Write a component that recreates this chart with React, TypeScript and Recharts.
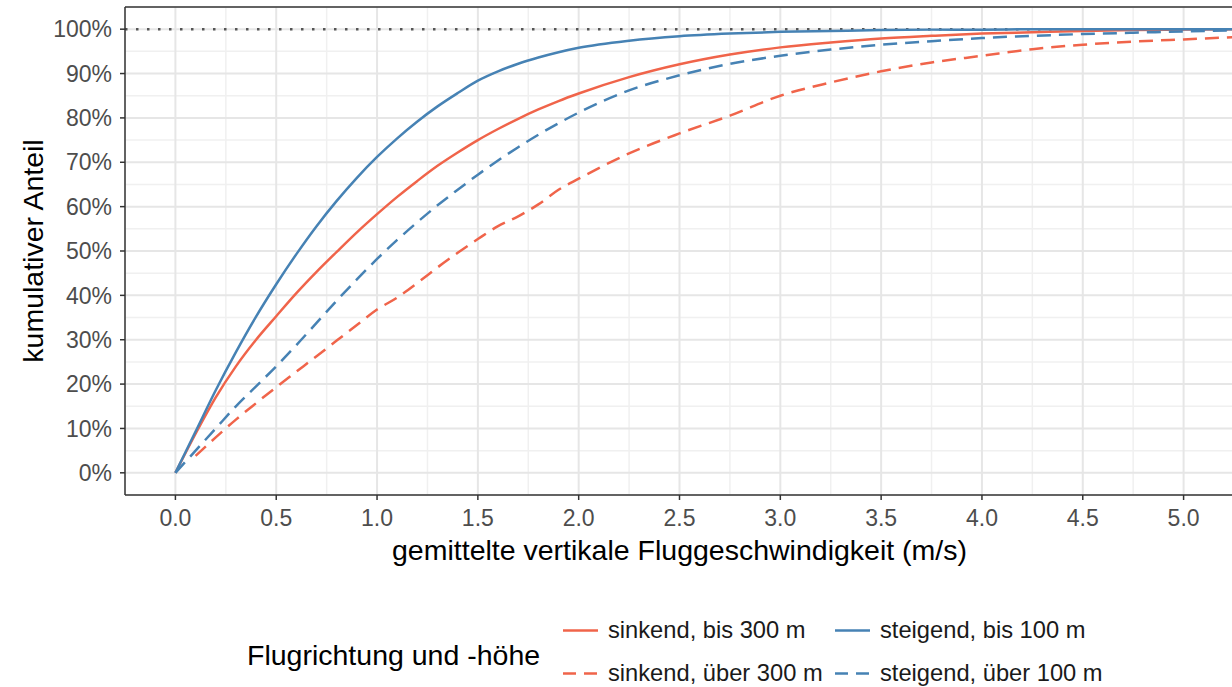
import React from "react";
import {
  LineChart, Line, XAxis, YAxis, ReferenceLine, Label,
} from "recharts";

// vertical speed (m/s)
const speeds = [
  0, 0.1, 0.2, 0.3, 0.4, 0.5, 0.6, 0.7, 0.8, 0.9, 1.0,
  1.1, 1.2, 1.3, 1.4, 1.5, 1.6, 1.7, 1.8, 1.9, 2.0,
  2.25, 2.5, 2.75, 3.0, 3.25, 3.5, 3.75, 4.0, 4.25, 4.5, 4.75, 5.0, 5.25,
];

// cumulative share (%)
const sinkendBis300 = [
  0, 8.8, 17, 24, 30, 35.3, 40.5, 45.3, 49.8, 54.2, 58.3,
  62.2, 65.8, 69.2, 72.2, 75, 77.5, 79.8, 81.9, 83.8, 85.5,
  89.2, 92.1, 94.3, 95.9, 97, 97.9, 98.5, 99, 99.3, 99.6, 99.8, 99.9, 100,
];
const sinkendUeber300 = [
  null, 3.8, 8, 12, 15.7, 19.3, 22.8, 26.3, 29.8, 33.3, 36.8,
  39.5, 42.8, 46.3, 49.6, 52.7, 55.6, 57.8, 60.5, 63.8, 66.3,
  72, 76.5, 80.5, 85, 88, 90.5, 92.5, 94, 95.5, 96.5, 97.2, 97.7, 98.2,
];
const steigendBis100 = [
  0, 9.3, 18.6, 27.2, 35.2, 42.5, 49.3, 55.6, 61.3, 66.5, 71.2,
  75.4, 79.2, 82.6, 85.6, 88.4, 90.5, 92.2, 93.6, 94.8, 95.8,
  97.4, 98.4, 99, 99.4, 99.6, 99.8, 99.9, 99.9, 100, 100, 100, 100, 100,
];
const steigendUeber100 = [
  0, 5, 10, 15, 19.5, 24, 28.8, 33.8, 38.8, 43.6, 48.2,
  52.5, 56.5, 60.3, 63.8, 67.2, 70.4, 73.4, 76.2, 78.8, 81.2,
  86.2, 89.6, 92.2, 94, 95.4, 96.5, 97.3, 98, 98.5, 98.9, 99.2, 99.5, 99.7,
];

const xTicks = [0, 0.5, 1, 1.5, 2, 2.5, 3, 3.5, 4, 4.5, 5];
const yTicks = [0, 10, 20, 30, 40, 50, 60, 70, 80, 90, 100];
const xMinor = [-0.25, 0.25, 0.75, 1.25, 1.75, 2.25, 2.75, 3.25, 3.75, 4.25, 4.75, 5.25];
const yMinor = [-5, 5, 15, 25, 35, 45, 55, 65, 75, 85, 95, 105];

const RED = "#f0644a";
const BLUE = "#4682b4";
const FONT = "'Liberation Sans', Arial, sans-serif";

const data = speeds.map((x, i) => ({
  x,
  sb: sinkendBis300[i],
  su: sinkendUeber300[i],
  stb: steigendBis100[i],
  stu: steigendUeber100[i],
}));

const legendItems = [
  { label: "sinkend, bis 300 m", color: RED, dash: false, left: 563, top: 630 },
  { label: "sinkend, über 300 m", color: RED, dash: true, left: 563, top: 673 },
  { label: "steigend, bis 100 m", color: BLUE, dash: false, left: 835, top: 630 },
  { label: "steigend, über 100 m", color: BLUE, dash: true, left: 835, top: 673 },
];

const tickStyle = { fill: "#4d4d4d", fontSize: 23, fontFamily: FONT };
const border = { stroke: "#333", strokeWidth: 1.5 };

export default function App() {
  return (
    <div
      style={{
        position: "fixed", left: 0, top: 0, width: 1232, height: 687,
        overflow: "hidden", background: "#fff", fontFamily: FONT,
      }}
    >
      <LineChart
        width={1240}
        height={687}
        data={data}
        margin={{ top: 7, right: 6, left: 0, bottom: 152 }}
      >
        {yMinor.map((v) => (
          <ReferenceLine key={"ym" + v} y={v} stroke="#f0f0f0" strokeWidth={1.5} />
        ))}
        {xMinor.map((v) => (
          <ReferenceLine key={"xm" + v} x={v} stroke="#f0f0f0" strokeWidth={1.5} />
        ))}
        {yTicks.map((v) => (
          <ReferenceLine key={"y" + v} y={v} stroke="#e6e6e6" strokeWidth={2} />
        ))}
        {xTicks.map((v) => (
          <ReferenceLine key={"x" + v} x={v} stroke="#e6e6e6" strokeWidth={2} />
        ))}
        <ReferenceLine y={100} stroke="#555" strokeWidth={2.5} strokeDasharray="2.5 8.5" />
        <ReferenceLine y={105} {...border} />
        <XAxis
          dataKey="x"
          type="number"
          domain={[-0.25, 5.25]}
          ticks={xTicks}
          allowDataOverflow
          height={40}
          tick={tickStyle}
          tickFormatter={(v: number) => v.toFixed(1)}
          tickSize={5}
          tickMargin={10}
          axisLine={border}
          tickLine={border}
        >
          <Label
            value="gemittelte vertikale Fluggeschwindigkeit (m/s)"
            position="bottom"
            offset={5}
            style={{ fill: "#000", fontSize: 28.5, fontFamily: FONT }}
          />
        </XAxis>
        <YAxis
          type="number"
          domain={[-5, 105]}
          ticks={yTicks}
          allowDataOverflow
          width={125}
          tick={tickStyle}
          tickFormatter={(v: number) => `${v}%`}
          tickSize={5}
          tickMargin={8}
          axisLine={border}
          tickLine={border}
        >
          <Label
            value="kumulativer Anteil"
            angle={-90}
            position="insideLeft"
            offset={33}
            style={{ fill: "#000", fontSize: 28.5, fontFamily: FONT, textAnchor: "middle" }}
          />
        </YAxis>
        <Line type="monotone" dataKey="sb" stroke={RED} strokeWidth={2.5} dot={false} isAnimationActive={false} />
        <Line type="monotone" dataKey="su" stroke={RED} strokeWidth={2.5} strokeDasharray="14 8" dot={false} isAnimationActive={false} />
        <Line type="monotone" dataKey="stb" stroke={BLUE} strokeWidth={2.5} dot={false} isAnimationActive={false} />
        <Line type="monotone" dataKey="stu" stroke={BLUE} strokeWidth={2.5} strokeDasharray="14 8" dot={false} isAnimationActive={false} />
      </LineChart>

      <div
        style={{
          position: "absolute", left: 247, top: 655, transform: "translateY(-50%)",
          fontSize: 28.5, color: "#000", whiteSpace: "nowrap",
        }}
      >
        Flugrichtung und -höhe
      </div>
      {legendItems.map((it) => (
        <div
          key={it.label}
          style={{
            position: "absolute", left: it.left, top: it.top, transform: "translateY(-50%)",
            display: "flex", alignItems: "center", whiteSpace: "nowrap",
          }}
        >
          <svg width={35} height={10}>
            <line
              x1={0} y1={5} x2={35} y2={5}
              stroke={it.color} strokeWidth={2.5}
              strokeDasharray={it.dash ? "13 8" : undefined}
            />
          </svg>
          <span style={{ marginLeft: 10, fontSize: 23.7, color: "#1a1a1a" }}>{it.label}</span>
        </div>
      ))}
    </div>
  );
}
